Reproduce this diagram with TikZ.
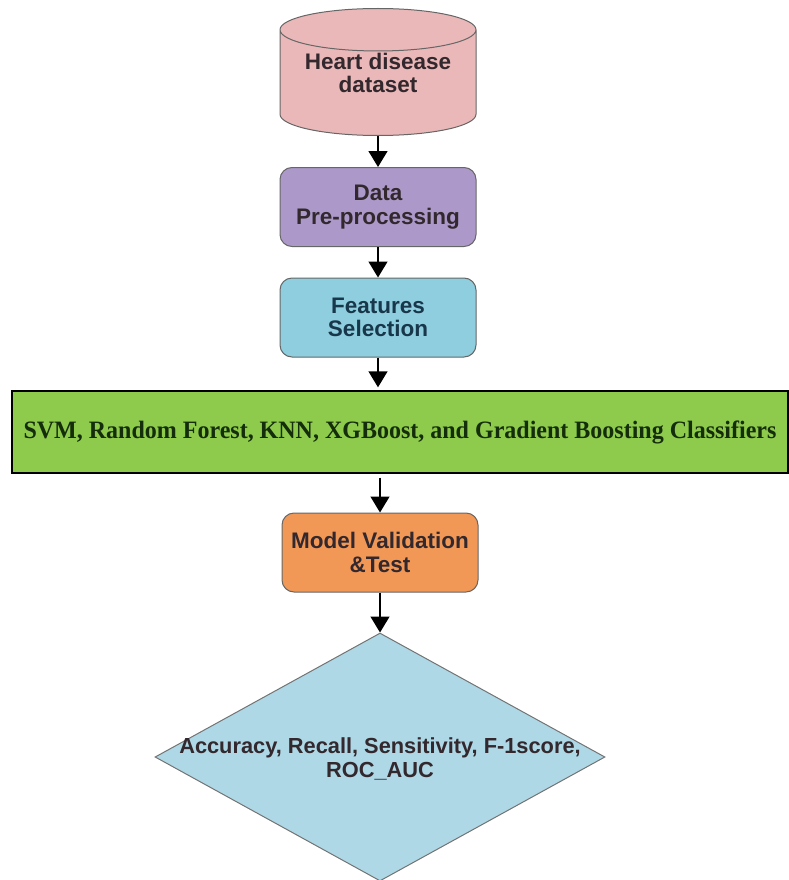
\documentclass[tikz,border=0pt]{standalone}
\usepackage{fontspec}
\setmainfont{Liberation Sans}
\newfontfamily\clffont[FakeStretch=0.96]{Liberation Serif}
\usetikzlibrary{positioning,shapes.geometric,arrows.meta}

\definecolor{dbpink}{RGB}{234,184,184}
\definecolor{prepurple}{RGB}{172,153,202}
\definecolor{selcyan}{RGB}{142,206,222}
\definecolor{clfgreen}{RGB}{142,202,76}
\definecolor{valorange}{RGB}{242,152,86}
\definecolor{evalblue}{RGB}{174,216,230}
\definecolor{txtdark}{RGB}{50,40,45}

\tikzset{
  flowbox/.style={draw=black!60,line width=1pt,rounded corners=12pt,minimum width=196pt,
    minimum height=79pt,align=center,text=txtdark,font=\fontsize{22.5}{23.5}\selectfont\bfseries},
  flowarrow/.style={line width=1.4pt,-{Triangle[length=16pt,width=19pt]}}
}

\begin{document}
\begin{tikzpicture}[x=1pt,y=-1pt]
    \useasboundingbox (0,0) rectangle (789,880);

    % the cylinder keeps a hidden copy of its text so that its ends get their size
    \node[cylinder,shape border rotate=90,aspect=0.29,draw=black!60,line width=1pt,fill=dbpink,
          minimum width=196pt,minimum height=127pt,anchor=shape center,align=center,
          font=\fontsize{21.5}{23.5}\selectfont\bfseries] (db) at (378,72)
          {\phantom{Heart disease}\\\phantom{dataset}};
    \node[align=center,text=txtdark,font=\fontsize{22.5}{23.5}\selectfont\bfseries]
          (dbtxt) at ([yshift=-1pt]db.shape center) {Heart disease\\dataset};
    \node[flowbox,fill=prepurple] (prep) at (378,207) {Data\\Pre-processing};
    \node[flowbox,fill=selcyan,text={rgb,255:red,25;green,55;blue,75}] (sel) at (378,317.5) {Features\\Selection};
    \node[draw=black,line width=1.4pt,fill=clfgreen,minimum width=776pt,minimum height=82pt,
          text={rgb,255:red,20;green,45;blue,10},font=\clffont\fontsize{25}{30}\selectfont\bfseries]
          (clf) at (400,432) {SVM, Random Forest, KNN, XGBoost, and Gradient Boosting Classifiers};
    \node[flowbox,fill=valorange] (val) at (380,552.5) {Model Validation\\\&Test};
    \node[diamond,draw=black!55,line width=1pt,fill=evalblue,minimum width=450pt,
          minimum height=248pt,inner sep=0pt] (eval) at (380,757) {};
    \node[align=center,text=txtdark,font=\fontsize{21.8}{24}\selectfont\bfseries]
          (evaltxt) at ([yshift=-2pt]eval.center) {Accuracy, Recall, Sensitivity, F-1score,\\ROC\_AUC};

    \draw[flowarrow] (db) -- (prep);
    \draw[flowarrow] (prep) -- (sel);
    \draw[flowarrow] (sel) -- ([yshift=3pt]sel |- clf.north);
    \draw[flowarrow] ([yshift=-4pt]val |- clf.south) -- (val);
    \draw[flowarrow] (val) -- (eval);

\end{tikzpicture}
\end{document}
